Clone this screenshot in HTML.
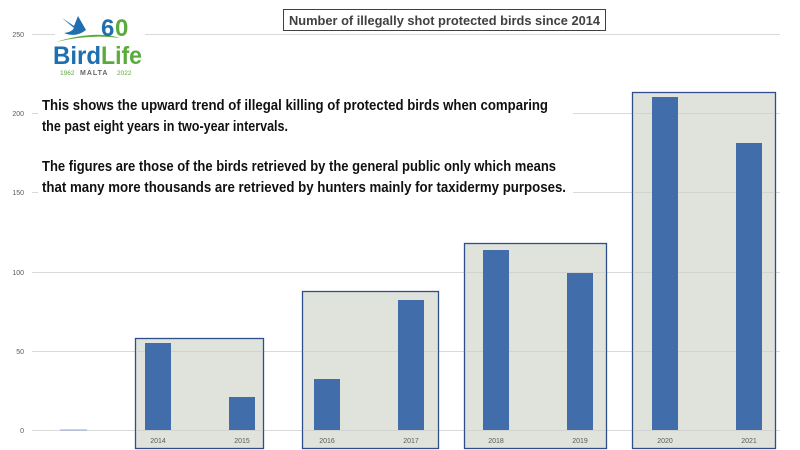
<!DOCTYPE html>
<html><head><style>body{margin:0;background:#fff}svg{display:block}</style></head><body>
<svg width="800" height="450" viewBox="0 0 800 450" xmlns="http://www.w3.org/2000/svg" font-family="Liberation Sans, sans-serif">
<rect width="800" height="450" fill="#fff"/>
<g stroke="#d9d9d9" stroke-width="1">
<line x1="32" y1="34.5" x2="780" y2="34.5"/><line x1="32" y1="113.5" x2="780" y2="113.5"/>
<line x1="32" y1="192.5" x2="780" y2="192.5"/><line x1="32" y1="272.5" x2="780" y2="272.5"/>
<line x1="32" y1="351.5" x2="780" y2="351.5"/><line x1="32" y1="430.5" x2="780" y2="430.5"/>
</g>
<g font-size="7" fill="#595959" text-anchor="end">
<text x="24" y="37">250</text><text x="24" y="116">200</text><text x="24" y="195">150</text>
<text x="24" y="275">100</text><text x="24" y="354">50</text><text x="24" y="433">0</text>
</g>
<line x1="60" y1="430" x2="87" y2="430" stroke="#8fa8d8" stroke-width="1"/>
<g fill="#dfe3dc" stroke="#2f4f8a" stroke-width="1.3">
<rect x="135.5" y="338.5" width="128" height="110"/>
<rect x="302.5" y="291.5" width="136" height="157"/>
<rect x="464.5" y="243.5" width="142" height="205"/>
<rect x="632.5" y="92.5" width="143" height="356"/>
</g>
<g stroke="#d0d3cf" stroke-width="1">
<line x1="136" y1="351.5" x2="263" y2="351.5"/><line x1="136" y1="430.5" x2="263" y2="430.5"/>
<line x1="303" y1="351.5" x2="438" y2="351.5"/><line x1="303" y1="430.5" x2="438" y2="430.5"/>
<line x1="465" y1="272.5" x2="606" y2="272.5"/><line x1="465" y1="351.5" x2="606" y2="351.5"/><line x1="465" y1="430.5" x2="606" y2="430.5"/>
<line x1="633" y1="113.5" x2="775" y2="113.5"/><line x1="633" y1="192.5" x2="775" y2="192.5"/><line x1="633" y1="272.5" x2="775" y2="272.5"/><line x1="633" y1="351.5" x2="775" y2="351.5"/><line x1="633" y1="430.5" x2="775" y2="430.5"/>
</g>
<g fill="#416dab">
<rect x="145" y="343" width="26" height="87"/><rect x="229" y="397" width="26" height="33"/>
<rect x="314" y="379" width="26" height="51"/><rect x="398" y="300" width="26" height="130"/>
<rect x="483" y="250" width="26" height="180"/><rect x="567" y="273" width="26" height="157"/>
<rect x="652" y="97" width="26" height="333"/><rect x="736" y="143" width="26" height="287"/>
</g>
<g font-size="7" fill="#595959" text-anchor="middle">
<text x="158" y="443">2014</text><text x="242" y="443">2015</text><text x="327" y="443">2016</text><text x="411" y="443">2017</text>
<text x="496" y="443">2018</text><text x="580" y="443">2019</text><text x="665" y="443">2020</text><text x="749" y="443">2021</text>
</g>
<rect x="283.5" y="9.5" width="322" height="21" fill="#fff" stroke="#404040" stroke-width="1"/>
<text x="289" y="25" font-size="13" font-weight="bold" fill="#404040" textLength="311" lengthAdjust="spacingAndGlyphs">Number of illegally shot protected birds since 2014</text>
<rect x="38" y="94" width="535" height="101" fill="#fff"/>
<g font-size="14.5" font-weight="bold" fill="#111">
<text x="42" y="110" textLength="506" lengthAdjust="spacingAndGlyphs">This shows the upward trend of illegal killing of protected birds when comparing</text>
<text x="42" y="131" textLength="246" lengthAdjust="spacingAndGlyphs">the past eight years in two-year intervals.</text>
<text x="42" y="171" textLength="514" lengthAdjust="spacingAndGlyphs">The figures are those of the birds retrieved by the general public only which means</text>
<text x="42" y="192" textLength="524" lengthAdjust="spacingAndGlyphs">that many more thousands are retrieved by hunters mainly for taxidermy purposes.</text>
</g>
<rect x="55" y="12" width="90" height="68" fill="#fff"/>
<path d="M62 18 L74 26 L78 16 L86 30 Q76 38 64 33 Q72 32 74 28 Z" fill="#1f6fb0"/>
<path d="M56 42 Q95 30 120 38 Q90 34 56 42Z" fill="#5aab3c"/>
<text x="101" y="36" font-size="24" font-weight="bold" fill="#1f6fb0">6</text>
<text x="115" y="36" font-size="24" font-weight="bold" fill="#5aab3c">0</text>
<text x="53" y="64" font-size="25" font-weight="bold" fill="#1f6fb0" textLength="48" lengthAdjust="spacingAndGlyphs">Bird</text>
<text x="101" y="64" font-size="25" font-weight="bold" fill="#5aab3c" textLength="41" lengthAdjust="spacingAndGlyphs">Life</text>
<text x="60" y="75" font-size="6.5" fill="#5aab3c">1962</text>
<text x="80" y="75" font-size="7" font-weight="bold" fill="#666" letter-spacing="1">MALTA</text>
<text x="117" y="75" font-size="6.5" fill="#5aab3c">2022</text>
</svg>
</body></html>
